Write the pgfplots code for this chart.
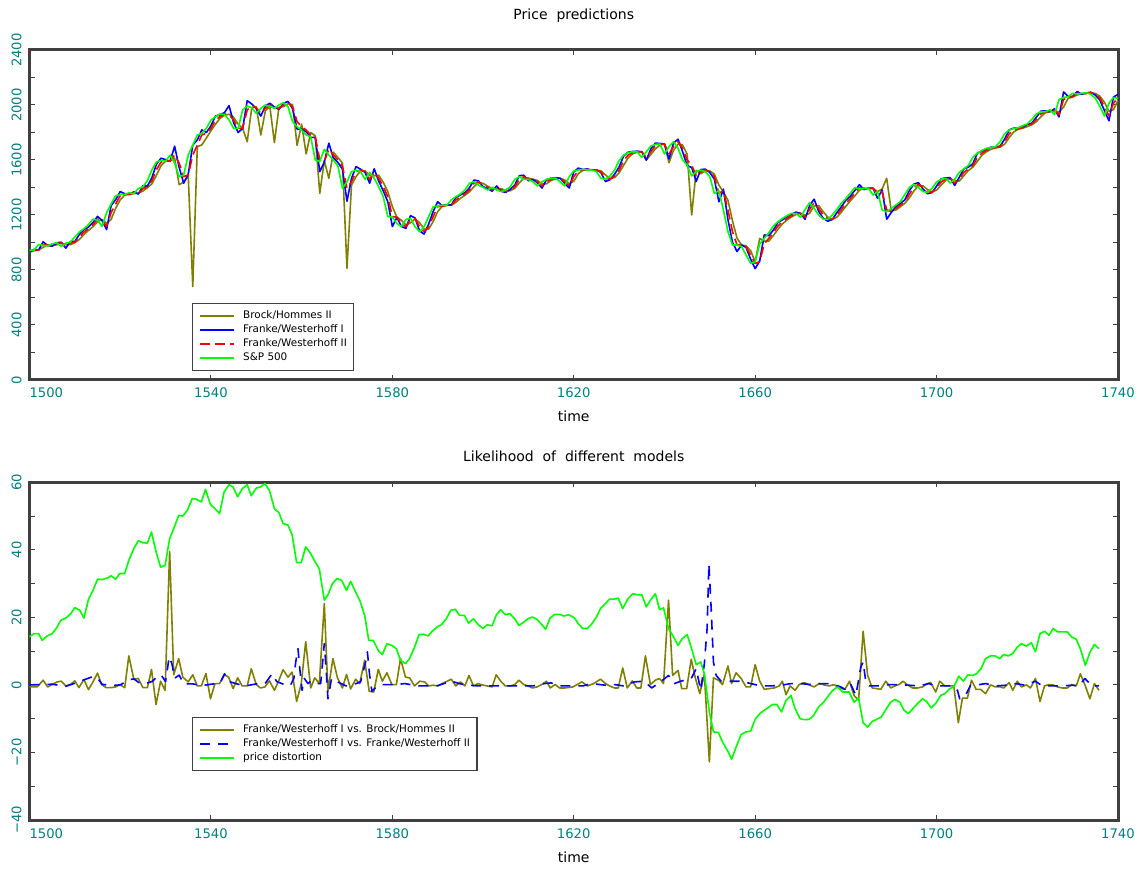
\documentclass[border=0pt]{standalone}
\usepackage{pgfplots}
\usepackage{pgfplotstable}
\pgfplotsset{compat=1.18}
\usepackage{fontspec}
\setmainfont{DejaVu Sans}
\newfontfamily\wsfont[WordSpace=2]{DejaVu Sans}
\definecolor{tickteal}{RGB}{0,128,128}
\definecolor{axgray}{RGB}{64,64,64}
\definecolor{bhol}{RGB}{128,128,0}
\definecolor{spgreen}{RGB}{0,255,0}
\definecolor{fwblue}{RGB}{0,0,255}
\definecolor{fwred}{RGB}{255,0,0}

\pgfplotstableread{
t sp fw1 fw2 bh
1500 945 930 935 930
1501 945 950 945 940
1502 985 945 945 945
1503 980 1005 985 965
1504 975 978 980 983
1505 990 973 975 978
1506 998 998 990 983
1507 972 1002 998 994
1508 995 959 972 985
1509 1003 1007 995 984
1510 1040 1007 1003 999
1511 1076 1059 1040 1022
1512 1100 1094 1076 1058
1513 1130 1112 1100 1088
1514 1170 1145 1130 1115
1515 1163 1190 1170 1150
1516 1117 1160 1163 1167
1517 1218 1094 1117 1140
1518 1280 1269 1218 1168
1519 1340 1311 1280 1249
1520 1350 1370 1340 1310
1521 1350 1355 1350 1345
1522 1362 1350 1350 1350
1523 1355 1368 1362 1356
1524 1393 1352 1355 1359
1525 1404 1412 1393 1374
1526 1450 1410 1404 1399
1527 1530 1473 1450 1427
1528 1585 1570 1530 1490
1529 1597 1613 1585 1558
1530 1592 1603 1597 1591
1531 1636 1590 1592 1595
1532 1576 1700 1636 1614
1533 1479 1546 1576 1420
1534 1491 1431 1479 1440
1535 1636 1497 1491 1485
1536 1709 1709 1636 680
1537 1782 1746 1709 1697
1538 1794 1819 1782 1710
1539 1830 1800 1794 1760
1540 1890 1848 1830 1812
1541 1915 1920 1890 1860
1542 1935 1928 1915 1903
1543 1930 1945 1935 1925
1544 1891 1995 1930 1933
1545 1830 1872 1891 1911
1546 1830 1800 1830 1861
1547 1964 1830 1830 1830
1548 1993 2031 1964 1733
1549 1980 2008 1993 1979
1550 1939 1974 1980 1987
1551 1975 1919 1939 1782
1552 2000 1993 1975 1957
1553 1990 2013 2000 1988
1554 1975 1985 1990 1726
1555 2000 1968 1975 1983
1556 2017 2013 2000 1988
1557 1988 2026 2017 2009
1558 1879 1974 1988 2003
1559 1842 1825 1879 1706
1560 1818 1824 1842 1861
1561 1782 1806 1818 1644
1562 1770 1764 1782 1800
1563 1600 1764 1770 1776
1564 1590 1515 1600 1357
1565 1678 1585 1590 1595
1566 1636 1722 1678 1467
1567 1600 1615 1636 1657
1568 1556 1582 1600 1618
1569 1394 1534 1556 1578
1570 1442 1300 1394 812
1571 1515 1466 1442 1418
1572 1527 1552 1515 1479
1573 1515 1533 1527 1521
1574 1459 1509 1515 1521
1575 1510 1431 1459 1487
1576 1467 1536 1510 1485
1577 1406 1446 1467 1489
1578 1333 1376 1406 1437
1579 1188 1297 1333 1370
1580 1184 1116 1188 1261
1581 1139 1182 1184 1186
1582 1115 1117 1139 1162
1583 1168 1103 1115 1127
1584 1175 1195 1168 1142
1585 1115 1179 1175 1172
1586 1079 1085 1115 1145
1587 1115 1061 1079 1097
1588 1188 1133 1115 1097
1589 1260 1225 1188 1152
1590 1265 1296 1260 1224
1591 1272 1268 1265 1263
1592 1272 1276 1272 1269
1593 1309 1272 1272 1272
1594 1333 1328 1309 1291
1595 1353 1345 1333 1321
1596 1382 1363 1353 1343
1597 1430 1397 1382 1368
1598 1442 1454 1430 1406
1599 1418 1448 1442 1436
1600 1401 1406 1418 1430
1601 1382 1393 1401 1410
1602 1401 1373 1382 1392
1603 1382 1411 1401 1392
1604 1370 1373 1382 1392
1605 1382 1364 1370 1376
1606 1406 1388 1382 1376
1607 1459 1418 1406 1394
1608 1479 1486 1459 1433
1609 1459 1489 1479 1469
1610 1459 1449 1459 1469
1611 1442 1459 1459 1459
1612 1411 1434 1442 1451
1613 1442 1396 1411 1427
1614 1459 1458 1442 1427
1615 1467 1468 1459 1451
1616 1467 1471 1467 1463
1617 1442 1467 1467 1467
1618 1411 1430 1442 1455
1619 1479 1396 1411 1427
1620 1520 1513 1479 1445
1621 1527 1541 1520 1500
1622 1532 1531 1527 1524
1623 1527 1535 1532 1530
1624 1527 1525 1527 1530
1625 1515 1527 1527 1527
1626 1467 1509 1515 1521
1627 1460 1443 1467 1491
1628 1484 1457 1460 1464
1629 1527 1496 1484 1472
1630 1595 1549 1527 1506
1631 1636 1629 1595 1561
1632 1653 1657 1636 1616
1633 1660 1662 1653 1645
1634 1660 1664 1660 1657
1635 1619 1660 1660 1660
1636 1660 1599 1619 1600
1637 1702 1681 1660 1640
1638 1714 1723 1702 1681
1639 1716 1720 1714 1708
1640 1644 1717 1716 1715
1641 1697 1608 1644 1580
1642 1733 1724 1697 1671
1643 1685 1751 1733 1715
1644 1600 1661 1685 1709
1645 1564 1558 1600 1643
1646 1484 1546 1564 1200
1647 1515 1444 1484 1524
1648 1527 1531 1515 1500
1649 1515 1533 1527 1521
1650 1479 1509 1515 1521
1651 1357 1461 1479 1497
1652 1377 1296 1357 1418
1653 1236 1387 1377 1367
1654 1079 1166 1236 1307
1655 982 1001 1079 1158
1656 982 934 982 1031
1657 970 982 982 982
1658 909 964 970 976
1659 848 879 909 940
1660 860 810 848 860
1661 990 866 860 1030
1662 1030 1055 990 1010
1663 1070 1050 1030 1010
1664 1120 1090 1070 1050
1665 1150 1145 1120 1095
1666 1175 1165 1150 1135
1667 1195 1188 1175 1163
1668 1212 1205 1195 1185
1669 1212 1221 1212 1204
1670 1183 1212 1212 1212
1671 1240 1169 1183 1198
1672 1290 1269 1240 1212
1673 1248 1315 1290 1265
1674 1200 1227 1248 1269
1675 1170 1176 1200 1224
1676 1168 1155 1170 1185
1677 1200 1167 1168 1169
1678 1240 1216 1200 1184
1679 1285 1260 1240 1220
1680 1320 1308 1285 1263
1681 1360 1338 1320 1303
1682 1400 1380 1360 1340
1683 1390 1420 1400 1380
1684 1394 1385 1390 1395
1685 1394 1396 1394 1392
1686 1345 1394 1394 1394
1687 1370 1321 1345 1370
1688 1236 1383 1370 1390
1689 1224 1169 1236 1467
1690 1248 1218 1224 1230
1691 1272 1260 1248 1236
1692 1297 1284 1272 1260
1693 1350 1310 1297 1285
1694 1400 1377 1350 1324
1695 1423 1425 1400 1375
1696 1400 1435 1423 1412
1697 1370 1389 1400 1412
1698 1365 1355 1370 1385
1699 1395 1363 1365 1368
1700 1440 1410 1395 1380
1701 1460 1463 1440 1418
1702 1467 1470 1460 1450
1703 1432 1471 1467 1464
1704 1460 1415 1432 1450
1705 1510 1474 1460 1446
1706 1535 1535 1510 1485
1707 1560 1548 1535 1523
1708 1620 1573 1560 1548
1709 1650 1650 1620 1590
1710 1670 1665 1650 1635
1711 1685 1680 1670 1660
1712 1690 1693 1685 1678
1713 1697 1693 1690 1688
1714 1733 1701 1697 1694
1715 1790 1751 1733 1715
1716 1818 1819 1790 1762
1717 1828 1832 1818 1804
1718 1835 1833 1828 1823
1719 1850 1839 1835 1832
1720 1862 1858 1850 1843
1721 1895 1868 1862 1856
1722 1935 1912 1895 1879
1723 1950 1955 1935 1915
1724 1951 1958 1950 1943
1725 1965 1952 1951 1951
1726 1930 1972 1965 1958
1727 2040 1913 1930 1948
1728 2055 2095 2040 1985
1729 2060 2063 2055 2048
1730 2085 2063 2060 2058
1731 2080 2098 2085 2073
1732 2085 2078 2080 2083
1733 2090 2088 2085 2083
1734 2078 2093 2090 2088
1735 2050 2072 2078 2084
1736 1990 2036 2050 2064
1737 1920 1960 1990 2020
1738 2012 1885 1920 1955
1739 2055 2058 2012 1966
1740 2048 2077 2055 2034
}\toptab

\pgfplotsset{
  chartbase/.style={
    scale only axis, width=544.25pt,
    xmin=1500, xmax=1740, enlargelimits=false,
    xtick={1500,1540,1580,1620,1660,1700,1740},
    xticklabels={\makebox[0pt][l]{1500},1540,1580,1620,1660,1700,1740},
    separate axis lines,
    axis line style={line width=1.5pt, draw=axgray, line cap=rect},
    tick style={draw=axgray, line width=0.5pt},
    major tick length=2.5pt, minor tick length=2.5pt,
    tick align=inside,
    ticklabel style={font=\fontsize{6.6}{7}\selectfont, text=tickteal},
    xticklabel style={anchor=center, yshift=-6.5pt},
    yticklabel style={anchor=center, xshift=-6.5pt, rotate=90},
    every axis title shift=0pt,
    title style={font=\wsfont\fontsize{7}{8}\selectfont, anchor=center, at={(0.5,1)}},
    xlabel=time,
    xlabel style={font=\fontsize{7}{8}\selectfont, at={(axis description cs:0.5,0)}, anchor=center},
    legend cell align=left,
    legend image code/.code={\draw[##1] (0pt,0pt) -- (17pt,0pt);},
    legend style={draw=axgray, line width=0.6pt, fill=white,
      font=\fontsize{5.2}{6}\selectfont,
      inner xsep=3.5pt, inner ysep=3.5pt, row sep=1.7pt, column sep=4pt,
      nodes={inner sep=0pt, text height=4pt, text depth=1.3pt}},
    every axis plot/.append style={line join=round, line width=0.8pt, no markers},
  }
}

\begin{document}
\begin{tikzpicture}
\path (0,0) rectangle (571pt,434pt);
\begin{axis}[chartbase,
  at={(14.75pt,244pt)}, anchor=south west,
  height=165pt,
  ymin=0, ymax=2400,
  ytick={0,400,800,1200,1600,2000,2400},
  yticklabels={0,400,800,1200,1600,2000,2400},
  minor ytick={200,600,1000,1400,1800,2200},
  title={Price predictions},
  title style={yshift=17pt},
  xlabel style={yshift=-18pt},
  legend style={at={(0.1493,0.2333)}, anchor=north west},
]
\addplot[draw=bhol] table[x=t, y=bh] {\toptab};
\addlegendentry{Brock/Hommes II}
\addplot[draw=fwblue] table[x=t, y=fw1] {\toptab};
\addlegendentry{Franke/Westerhoff I}
\addplot[draw=fwred, dash pattern=on 5pt off 2.5pt] table[x=t, y=fw2] {\toptab};
\addlegendentry{Franke/Westerhoff II}
\addplot[draw=spgreen] table[x=t, y=sp] {\toptab};
\addlegendentry{S\&P 500}
\end{axis}

\begin{axis}[chartbase,
  at={(14.75pt,24pt)}, anchor=south west,
  height=168.85pt,
  ymin=-40, ymax=60,
  ytick={-40,-20,0,20,40,60},
  yticklabels={−40,−20,0,20,40,60},
  minor ytick={-30,-10,10,30,50},
  title={Likelihood of different models},
  title style={yshift=13.2pt},
  xlabel style={yshift=-18.5pt},
  xticklabel style={yshift=-0.5pt},
  legend style={at={(0.1493,0.305)}, anchor=north west},
]
\addplot[draw=bhol] coordinates {
(1499.9,-0.6) (1501.7,-0.6) (1503,1.4) (1504,-0.6) (1505,0.1) (1506.1,0.9) (1507,1.1) (1508,-0.3) (1509.1,0.2) (1510,1.2) (1510.9,-0.8) (1512,1.6) (1513,-1.4) (1514,0.9) (1515,3.5) (1515.9,0.1) (1516.9,-0.8) (1518,-0.8) (1519,-0.6) (1519.9,0.1) (1521,-0.8) (1521.9,8.6) (1523,1.7) (1524,1.9) (1525,-0.8) (1526,-0.8) (1526.9,4.6) (1527.9,-5.8) (1528.9,1.1) (1529.9,-1.6) (1530.9,39.5) (1531.8,3.0) (1532.9,7.8) (1533.8,2.3) (1535,0.9) (1536,3.0) (1537,-0.3) (1537.9,-0.3) (1538.9,3.4) (1539.9,-4.1) (1540.9,0.4) (1541.9,0.4) (1543,3.0) (1543.9,2.3) (1544.9,-1.1) (1545.9,2.1) (1546.9,-0.3) (1548,-0.3) (1548.9,4.8) (1550,0.1) (1550.9,-0.9) (1551.9,-0.6) (1552.9,1.2) (1554,-1.6) (1555,1.4) (1555.9,4.5) (1557,2.3) (1557.9,3.8) (1558.9,-4.9) (1559.9,0.2) (1560.9,12.8) (1562,-0.9) (1562.9,2.1) (1563.9,0.4) (1565,24.1) (1565.8,-1.9) (1566.9,7.8) (1567.9,2.1) (1569,-0.9) (1569.9,3.1) (1570.8,-1.2) (1571.9,1.7) (1572.8,0.4) (1573.9,7.3) (1574.9,-1.9) (1575.9,-2.1) (1576.9,4.6) (1577.8,1.1) (1578.8,3.6) (1579.9,0.1) (1580.9,0.1) (1581.8,7.8) (1582.9,2.3) (1583.8,2.1) (1584.9,-0.3) (1586,1.1) (1587.1,0.9) (1588,-0.3) (1589,-0.1) (1590.1,-0.3) (1591,0.4) (1592.1,1.1) (1593,1.7) (1594,-0.3) (1595,0.9) (1596,-0.3) (1596.9,2.8) (1597.9,-0.3) (1598.9,0.4) (1599.8,0) (1600.9,-0.3) (1602,-0.6) (1602.9,3.0) (1603.9,1.1) (1604.9,-0.3) (1606,-0.3) (1607,0.1) (1607.9,1.4) (1609,0.1) (1609.9,-0.3) (1610.9,-0.9) (1611.9,-0.6) (1612.8,0) (1614,1.1) (1614.8,-0.9) (1615.9,0.1) (1616.9,-0.9) (1618,-0.9) (1619.8,-0.6) (1621.8,0.9) (1623,-0.3) (1624.4,0.4) (1625.9,1.7) (1627,0.4) (1627.9,-0.3) (1629,-0.9) (1629.8,-0.9) (1630.8,5.0) (1631.8,-0.9) (1632.9,1.2) (1633.9,-0.9) (1634.8,-0.9) (1635.8,8.6) (1636.9,0.1) (1638,1.4) (1638.9,1.9) (1639.8,0.4) (1640.9,25.1) (1641.8,2.8) (1643,4.3) (1643.8,-1.1) (1644.9,-1.1) (1645.9,7.6) (1646.8,2.1) (1647.8,-2.6) (1648.8,3.3) (1649.9,-22.8) (1650.8,2.1) (1651.9,1.4) (1652.8,0.1) (1654,5.6) (1654.8,0.4) (1655.8,3.6) (1656.9,1.9) (1658,-0.6) (1659,-0.6) (1660,6.0) (1661,1.1) (1662,-1.3) (1663.1,-1.1) (1664.2,-0.9) (1665.3,-0.3) (1666,1.1) (1666.8,-2.9) (1667.7,-0.3) (1668.8,-1.6) (1669.7,0.1) (1670.8,0.7) (1671.9,0) (1673,-0.6) (1674.1,0.4) (1675.2,0) (1676.3,-0.3) (1677.4,0.1) (1678.5,-0.9) (1679.8,-1.3) (1680.8,1.1) (1681.8,-3.1) (1682.8,-4.6) (1683.8,15.9) (1684.8,2.8) (1685.8,-0.9) (1687.7,-1.3) (1688.8,1.1) (1689.9,-0.9) (1690.8,-0.3) (1691.7,0.1) (1692.6,1.1) (1693.6,0) (1694.7,-0.9) (1695.8,-0.9) (1696.9,-0.6) (1698,0.4) (1698.7,0.7) (1699.8,-2.1) (1700.7,1.1) (1701.8,-0.3) (1702.9,-0.3) (1703.8,-0.3) (1704.8,-11.2) (1705.7,-3.9) (1706.8,-3.9) (1707.7,1.4) (1708.7,-1.3) (1709.7,-1.3) (1710.8,-2.6) (1711.9,0) (1713,-0.6) (1714.1,-0.6) (1714.8,-0.9) (1716,0.7) (1716.8,-1.6) (1717.8,1.1) (1718.7,-0.6) (1719.8,0) (1720.7,-0.9) (1721.8,1.9) (1722.8,-4.9) (1723.8,-0.3) (1724.8,0.1) (1725.7,0) (1726.7,-0.6) (1727.7,-0.9) (1728.8,-0.9) (1729.8,0.1) (1730.8,-0.3) (1731.7,3.3) (1732.8,-0.3) (1733.8,-4.1) (1734.8,0.4) (1735.8,-1.6)
};
\addlegendentry{Franke/Westerhoff I vs. Brock/Hommes II}
\addplot[draw=fwblue, dash pattern=on 5pt off 4pt] coordinates {
(1500,0) (1505,0.2) (1508,-0.4) (1510,0.5) (1512,1.5) (1513,2.0) (1514,2.5) (1515,2.0) (1516,0.2) (1518,-0.2) (1520,0) (1522,1.5) (1523,1.8) (1524,0.8) (1525,0.2) (1527,1.0) (1528,2.2) (1529,3.0) (1530,1.0) (1530.8,8.3) (1531.4,6.3) (1532,2) (1533,2.9) (1534,0.3) (1536,0.3) (1538,-0.2) (1540,0.2) (1542,0.5) (1543,3.3) (1544,1.0) (1546,0.2) (1548,-0.2) (1550,0.3) (1552,0.5) (1553.5,3.3) (1554.5,1.0) (1556,0.2) (1557.5,-0.2) (1558.3,2.0) (1558.7,6.8) (1559.2,10.7) (1559.6,4.8) (1560.1,-1.6) (1560.6,1.9) (1561.4,0.4) (1562,1.1) (1563,0.4) (1564.2,0.4) (1565,12.2) (1565.4,4.8) (1565.8,-4.1) (1566.6,1.9) (1567.6,1.1) (1568.7,0.4) (1569.8,-0.3) (1571,0.1) (1572,0.4) (1573,0.9) (1574.1,6.8) (1574.5,9.8) (1575,2.8) (1575.5,-1.9) (1576.5,-0.5) (1577.3,0.1) (1579,0.1) (1581,0.1) (1582.7,0.4) (1584,0.1) (1586,-0.3) (1588,-0.3) (1590,-0.2) (1593,1.1) (1595,0.3) (1597,-0.1) (1599,-0.3) (1602,-0.3) (1605,-0.3) (1608,-0.3) (1611,-0.3) (1613,0.3) (1615,0.6) (1617,-0.3) (1620,-0.3) (1622,-0.3) (1624,0.4) (1627,-0.1) (1629,0.1) (1631,-0.3) (1633.4,0.9) (1635.5,1.1) (1637.2,-0.9) (1639.3,1.1) (1640.9,2.8) (1642.2,0.4) (1643.6,1.1) (1645.9,1.9) (1647,4.8) (1648,-1.6) (1648.8,6.3) (1649.4,16.7) (1649.8,35.9) (1650.3,22.6) (1650.8,6.8) (1651.4,2.8) (1652.5,1.1) (1654.7,1.1) (1657,1.1) (1659,0.4) (1661.3,-0.3) (1663.5,-0.3) (1665.7,-0.1) (1667.9,0.4) (1670,0.4) (1672.3,0.1) (1674.5,0.4) (1676.7,0.4) (1678.9,-0.6) (1679.8,-1.3) (1681,0.4) (1682.2,-3.1) (1683.3,5.3) (1683.8,6.8) (1684.4,0.9) (1685.1,-0.3) (1687.3,-0.3) (1689.5,0.1) (1691.7,0.1) (1694,-0.1) (1696.1,-0.3) (1698.3,0.4) (1699.8,-0.3) (1702,-0.3) (1703.5,-0.3) (1704.6,-1.6) (1705.1,-4.1) (1706.4,-3.0) (1707.5,-0.1) (1708.6,-0.1) (1710.8,0.4) (1713,-0.3) (1715.2,-0.1) (1717.4,0.4) (1719.6,-0.1) (1721.8,1.1) (1723.3,-0.3) (1725.5,-0.3) (1727.7,-0.3) (1729.9,-0.1) (1731.4,-0.3) (1732.7,1.9) (1734.3,-0.3) (1735.8,-0.3)
};
\addlegendentry{Franke/Westerhoff I vs. Franke/Westerhoff II}
\addplot[draw=spgreen] coordinates {
(1499.9,14.2) (1501,15.2) (1502,15.2) (1502.8,13.2) (1503.9,14.5) (1505,15.2) (1505.9,16.7) (1506.9,19.1) (1508,19.8) (1509.1,21.1) (1510,22.9) (1511.1,22.1) (1512,19.8) (1513,25.3) (1514,28.0) (1515,31.3) (1516.1,31.2) (1517.2,31.7) (1518,32.3) (1519,31.3) (1519.9,33.0) (1521,33.0) (1521.9,36.9) (1523,40.4) (1524,42.7) (1525,42.1) (1526,42.0) (1526.9,45.3) (1527.9,39.4) (1528.9,34.9) (1529.9,35.4) (1530.9,43.3) (1531.8,46.3) (1532.9,50.2) (1533.8,50.0) (1534.8,51.7) (1535.9,55.2) (1536.8,55.0) (1537.9,54.2) (1538.8,57.9) (1539.9,53.4) (1540.9,52.2) (1541.9,50.7) (1542.9,57.1) (1544,59.3) (1544.9,58.6) (1545.9,55.7) (1546.9,58.1) (1548,59.3) (1548.9,56.0) (1550,58.3) (1550.9,58.6) (1551.9,59.6) (1552.9,57.6) (1554,52.2) (1555,51.0) (1555.9,47.8) (1557,47.3) (1557.9,44.5) (1558.9,36.2) (1559.9,36.2) (1560.9,40.9) (1562,38.9) (1562.9,36.6) (1563.9,34.4) (1565,25.1) (1565.8,26.7) (1566.8,30.0) (1567.8,31.5) (1568.8,31.0) (1569.9,28.0) (1570.8,30.7) (1571.9,27.5) (1572.8,25.1) (1573.9,20.6) (1574.8,13.2) (1575.8,13.2) (1576.9,10.2) (1577.8,9.0) (1578.8,12.2) (1579.9,11.7) (1580.9,10.7) (1581.8,7.3) (1582.9,6.3) (1583.8,7.8) (1584.9,11.2) (1585.9,14.9) (1586.9,15.0) (1587.9,14.5) (1588.8,15.9) (1589.9,17.2) (1590.8,17.8) (1591.9,19.6) (1592.9,22.1) (1593.9,22.4) (1594.8,20.6) (1595.9,20.6) (1596.8,18.3) (1597.9,19.6) (1598.9,17.9) (1600,16.7) (1600.9,17.8) (1602,17.5) (1602.9,20.6) (1603.9,22.3) (1604.9,20.8) (1605.9,21.1) (1607,19.6) (1607.9,17.6) (1609,18.6) (1609.9,19.6) (1610.9,20.1) (1611.9,19.4) (1612.8,18.1) (1613.8,16.5) (1614.8,19.8) (1615.8,20.9) (1616.9,20.9) (1617.8,20.4) (1618.9,20.8) (1620.2,19.8) (1621,18.1) (1622,16.7) (1623,16.7) (1624,18.1) (1625,20.1) (1625.9,22.6) (1627,24.1) (1627.9,25.4) (1628.8,25.4) (1629.8,25.7) (1630.8,22.6) (1631.9,25.4) (1633,27.0) (1634,26.7) (1635,26.7) (1636,23.1) (1636.9,25.1) (1638,27.0) (1638.9,22.4) (1639.8,22.8) (1640.9,16.7) (1641.8,14.7) (1643,11.7) (1643.9,13.7) (1645,14.9) (1646,10.7) (1647,6.0) (1648,6.8) (1648.8,3.3) (1649.9,-8.0) (1650.8,-13.9) (1651.9,-14.1) (1652.8,-16.9) (1654,-19.7) (1654.8,-22.0) (1655.8,-18.4) (1656.9,-14.7) (1658,-13.9) (1659,-13.7) (1660,-10.2) (1661,-8.5) (1662,-7.5) (1662.9,-6.7) (1663.8,-5.8) (1664.8,-5.8) (1665.8,-8.0) (1666.8,-4.6) (1667.9,-3.1) (1668.8,-7.0) (1669.9,-10.0) (1670.8,-10.3) (1671.9,-10.2) (1672.9,-9.0) (1674,-6.5) (1675.1,-5.1) (1676.1,-3.3) (1677.1,-1.6) (1678.2,-0.6) (1679.3,-2.1) (1680.7,-2.1) (1681.8,-5.1) (1682.8,-3.9) (1683.8,-11.2) (1684.8,-12.5) (1685.8,-10.8) (1686.8,-10.2) (1687.8,-9.5) (1688.8,-7.3) (1689.9,-5.1) (1690.8,-4.3) (1691.9,-5.1) (1692.8,-7.5) (1693.8,-8.5) (1694.8,-7.0) (1695.8,-5.5) (1696.9,-4.1) (1697.8,-4.9) (1698.8,-6.8) (1699.9,-5.3) (1700.9,-3.1) (1701.8,-2.6) (1702.9,-1.1) (1703.8,-0.6) (1704.9,2.6) (1705.9,1.1) (1706.9,3.0) (1707.9,2.8) (1708.8,3.3) (1709.8,4.8) (1710.8,7.8) (1711.9,8.6) (1712.9,8.6) (1713.9,7.8) (1714.8,9.0) (1715.8,8.6) (1716.8,9.3) (1717.8,11.2) (1718.7,12.2) (1719.8,11.5) (1720.9,12.5) (1721.8,9.8) (1722.8,15.2) (1723.8,15.9) (1724.8,14.7) (1725.7,16.7) (1726.7,15.7) (1727.7,15.7) (1728.8,15.7) (1729.8,14.2) (1730.8,13.5) (1731.7,10.7) (1732.8,5.8) (1733.8,9.6) (1734.8,12.0) (1735.8,10.7)
};
\addlegendentry{price distortion}
\end{axis}
\end{tikzpicture}
\end{document}
